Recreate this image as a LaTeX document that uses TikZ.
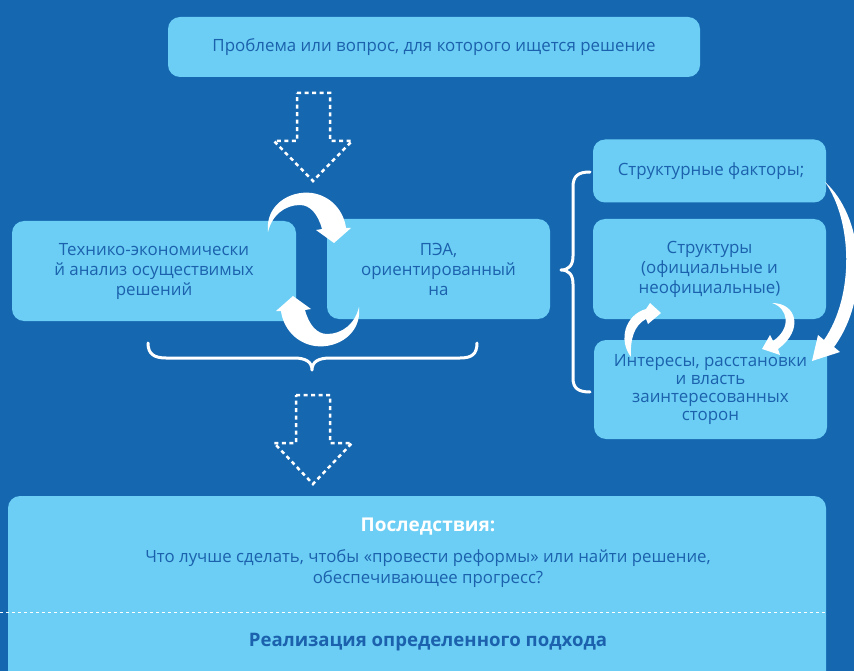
\documentclass[tikz,border=0pt]{standalone}
\usepackage{fontspec}
\setmainfont{Open Sans}
\definecolor{bg}{HTML}{1567B0}
\definecolor{lb}{HTML}{6CCEF4}
\definecolor{tx}{HTML}{1B61AD}
\begin{document}
\begin{tikzpicture}[x=1pt,y=-1pt,
  box/.style={fill=lb, rounded corners=12pt, inner sep=0pt, align=center, text=tx, font=\fontsize{16.9}{20}\selectfont},
  txt/.style={inner sep=0pt, align=center, text=tx, font=\fontsize{16.8}{21}\selectfont},
  dotarrow/.style={draw=white, line width=2.5pt, dash pattern=on 4pt off 3.5pt},
  brace/.style={draw=white, line width=3pt, line cap=round, line join=round},
  curvy/.style={fill=white}]
\fill[bg] (0,0) rectangle (854,671);
\useasboundingbox (0,0) rectangle (854,671);

% top box
\node[box, minimum width=532pt, minimum height=60pt] (top) at (434,47) {Проблема или вопрос, для которого ищется решение};

% dotted arrow 1
\draw[dotarrow] (297,93) -- (330,93) -- (330,141) -- (352,141) -- (313,181) -- (274,141) -- (297,141) -- cycle;

% middle row
\node[box, minimum width=284pt, minimum height=100pt] (tea) at (154,271) {Технико-экономически\\й анализ осуществимых\\решений};
\node[box, minimum width=223pt, minimum height=100pt] (pea) at (438.5,269) {ПЭА,\\ориентированный\\на};

% curved arrows between
\fill[curvy] (268,232) .. controls (265,205) and (290,190) .. (312,193) .. controls (332,196) and (344,212) .. (346,228) -- (351,228) -- (334,243) -- (316,230) -- (322,229) .. controls (318,214) and (310,205) .. (300,205) .. controls (285,205) and (272,215) .. (268,232) -- cycle;
\begin{scope}[rotate around={180:(313.5,269.5)}]
\fill[curvy] (268,232) .. controls (265,205) and (290,190) .. (312,193) .. controls (332,196) and (344,212) .. (346,228) -- (351,228) -- (334,243) -- (316,230) -- (322,229) .. controls (318,214) and (310,205) .. (300,205) .. controls (285,205) and (272,215) .. (268,232) -- cycle;
\end{scope}

% brace under
\draw[brace] (148,343) .. controls (148,354) and (154,358) .. (166,358) -- (294,358) .. controls (306,358) and (312,362) .. (312,370) .. controls (312,362) and (318,358) .. (330,358) -- (460,358) .. controls (472,358) and (477,354) .. (477,343);

% dotted arrow 2
\draw[dotarrow] (296,395) -- (330,395) -- (330,443) -- (352,443) -- (313,484) -- (274,443) -- (296,443) -- cycle;

% right column
\node[box, minimum width=233pt, minimum height=63pt] (sf) at (709.5,171) {\hspace*{3pt}Структурные факторы;};
\node[box, minimum width=233pt, minimum height=100pt] (st) at (709.5,269) {Структуры\\(официальные и\\неофициальные)};
\node[box, minimum width=233pt, minimum height=99pt, font=\fontsize{16.9}{18}\selectfont] (int) at (710.5,389.5) {Интересы, расстановки\\и власть\\заинтересованных\\сторон};

% right brace
\draw[brace] (590,172) .. controls (578,172) and (573,176) .. (573,187) -- (573,256) .. controls (573,265) and (569,270) .. (561,270) .. controls (569,270) and (573,275) .. (573,284) -- (573,378) .. controls (573,388) and (578,392) .. (590,392);

% long arrow
\fill[curvy] (825,182) .. controls (862,215) and (872,295) .. (834,347) -- (840,352) -- (812,361) -- (818,335) -- (824,340) .. controls (855,295) and (852,220) .. (825,182) -- cycle;

% small right arrow
\fill[curvy] (772,303) .. controls (797,303) and (804,330) .. (778,349) -- (780,355) -- (762,349) -- (770,335) -- (773,341) .. controls (792,328) and (788,308) .. (772,303) -- cycle;

% small left arrow
\fill[curvy] (631,357) .. controls (618,340) and (625,315) .. (646,309) -- (650,303) -- (661,313) -- (648,324) -- (646,319) .. controls (634,325) and (630,340) .. (631,357) -- cycle;

% bottom box
\node[box, minimum width=818pt, minimum height=200pt] (bot) at (417,596) {};
\node[inner sep=0pt, text=white, font=\bfseries\fontsize{19}{22}\selectfont] (cons) at (428,527) {Последствия:};
\node[txt] (q) at (428,569) {Что лучше сделать, чтобы «провести реформы» или найти решение,\\обеспечивающее прогресс?};
\draw[white, line width=1pt, dash pattern=on 3pt off 3pt] (0,612) -- (826,612);
\node[inner sep=0pt, text=tx, font=\bfseries\fontsize{18.6}{21}\selectfont] (impl) at (428,642) {Реализация определенного подхода};
\end{tikzpicture}
\end{document}
